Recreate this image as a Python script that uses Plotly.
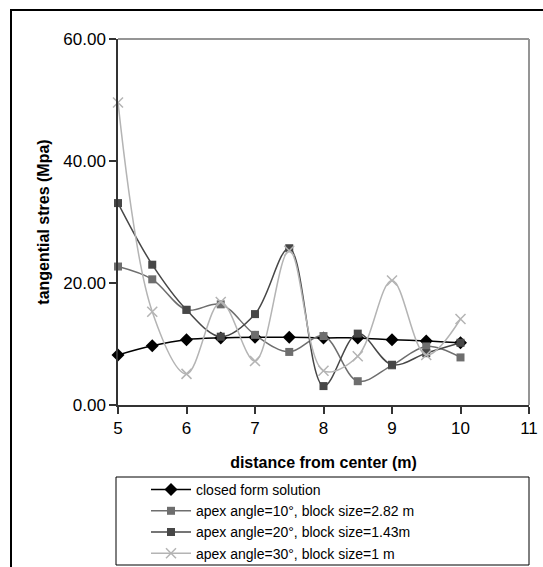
import plotly.graph_objects as go

# Data
distance = [5, 5.5, 6, 6.5, 7, 7.5, 8, 8.5, 9, 9.5, 10]
closed_form = [8.2, 9.7, 10.7, 11.0, 11.1, 11.1, 11.0, 11.0, 10.7, 10.5, 10.2]
apex10 = [22.7, 20.6, 15.6, 16.5, 11.5, 8.7, 11.3, 3.9, 6.5, 9.6, 7.8]
apex20 = [33.1, 23.0, 15.6, 11.2, 14.9, 25.7, 3.1, 11.7, 6.6, 8.5, 10.2]
apex30 = [49.6, 15.3, 5.1, 16.9, 7.2, 25.3, 5.6, 8.0, 20.4, 8.2, 14.1]

names = [
    "closed form solution",
    "apex angle=10°, block size=2.82 m",
    "apex angle=20°, block size=1.43m",
    "apex angle=30°, block size=1 m",
]
x_ticks = [5, 6, 7, 8, 9, 10, 11]
y_ticks = [0, 20, 40, 60]

FONT = "Liberation Sans, Arial, sans-serif"
SMOOTH = 1.0

fig = go.Figure()
fig.add_trace(go.Scatter(
    x=distance, y=closed_form, name=names[0], mode="lines+markers",
    line=dict(color="#000000", width=1.5, shape="spline", smoothing=SMOOTH),
    marker=dict(symbol="diamond", size=10, color="#000000"), cliponaxis=False))
fig.add_trace(go.Scatter(
    x=distance, y=apex10, name=names[1], mode="lines+markers",
    line=dict(color="#6e6e6e", width=1.5, shape="spline", smoothing=SMOOTH),
    marker=dict(symbol="square", size=8, color="#6e6e6e"), cliponaxis=False))
fig.add_trace(go.Scatter(
    x=distance, y=apex20, name=names[2], mode="lines+markers",
    line=dict(color="#474747", width=1.5, shape="spline", smoothing=SMOOTH),
    marker=dict(symbol="square", size=8, color="#474747"), cliponaxis=False))
fig.add_trace(go.Scatter(
    x=distance, y=apex30, name=names[3], mode="lines+markers",
    line=dict(color="#b4b4b4", width=1.5, shape="spline", smoothing=SMOOTH),
    marker=dict(symbol="x-thin", size=10, color="#b4b4b4",
                line=dict(color="#b4b4b4", width=1.5)), cliponaxis=False))

W, H = 543, 567
L, R, T, B = 118, 14, 39, 162
pw, ph = W - L - R, H - T - B


def px(xp):
    return (xp - L) / pw


def py(yp):
    return (H - B - yp) / ph


shapes = [
    # outer chart border (top + left visible)
    dict(type="rect", xref="paper", yref="paper", x0=px(11), x1=px(600),
         y0=py(650), y1=py(10), line=dict(color="#000000", width=2)),
    # plot area gray top/right border
    dict(type="line", xref="paper", yref="paper", x0=0, x1=1, y0=1, y1=1,
         line=dict(color="#959595", width=2)),
    dict(type="line", xref="paper", yref="paper", x0=1, x1=1, y0=0, y1=1,
         line=dict(color="#959595", width=2)),
    # legend box
    dict(type="rect", xref="paper", yref="paper", x0=px(116), x1=px(529),
         y0=py(565), y1=py(477), line=dict(color="#000000", width=1)),
]

fig.update_layout(
    width=W, height=H,
    margin=dict(l=L, r=R, t=T, b=B, autoexpand=False),
    paper_bgcolor="white", plot_bgcolor="white",
    font=dict(family=FONT, size=16, color="#000000"),
    shapes=shapes,
    showlegend=True,
    legend=dict(
        x=px(146), y=py(474), xanchor="left", yanchor="top",
        font=dict(family=FONT, size=14, color="#000000"),
        itemwidth=40, bgcolor="rgba(0,0,0,0)", borderwidth=0,
        tracegroupgap=0,
    ),
    xaxis=dict(
        range=[5, 11], tickvals=x_ticks, ticktext=[str(v) for v in x_ticks],
        showgrid=False, zeroline=False,
        showline=True, linecolor="#333333", linewidth=1.5,
        ticks="outside", ticklen=7, tickwidth=1.5, tickcolor="#333333",
        tickfont=dict(family=FONT, size=17),
        title=dict(text="<b>distance from center (m)</b>",
                   font=dict(family=FONT, size=16), standoff=20),
    ),
    yaxis=dict(
        range=[0, 60], tickvals=y_ticks, tickformat=".2f",
        showgrid=False, zeroline=False,
        showline=True, linecolor="#333333", linewidth=1.5,
        ticks="outside", ticklen=7, tickwidth=1.5, tickcolor="#333333",
        tickfont=dict(family=FONT, size=17),
        title=dict(text="<b>tangential stres (Mpa)</b>",
                   font=dict(family=FONT, size=16), standoff=10),
    ),
)

fig.write_html("out.html")
